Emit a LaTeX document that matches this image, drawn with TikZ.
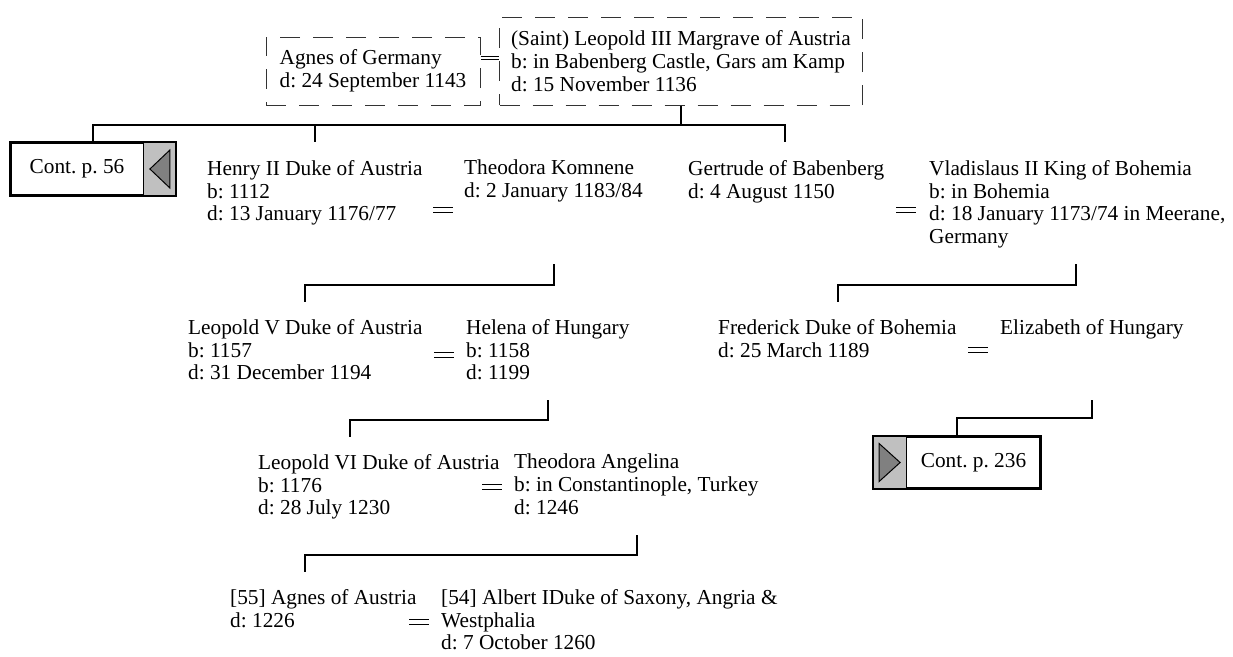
\documentclass[tikz,border=0pt]{standalone}
\usepackage{fontspec}
\setmainfont{Liberation Serif}
\usetikzlibrary{calc}
\frenchspacing
\definecolor{Ink}{HTML}{000000}
\definecolor{Frame}{HTML}{333333}
\definecolor{TabGray}{HTML}{C0C0C0}
\definecolor{TipGray}{HTML}{808080}

\begin{document}
\begin{tikzpicture}[
  x=1pt, y=-1pt,
  font=\fontsize{21.3}{22.8}\selectfont,
  person/.style={anchor=north west, inner sep=0pt, align=left},
  dashbox/.style={draw=Frame, line width=1pt, dash pattern=on 20pt off 13pt, align=left, inner sep=0pt},
  contbox/.style={draw=Ink, line width=1.8pt, fill=white, inner sep=0pt},
  famline/.style={draw=Ink, line width=1.6pt},
  spouse/.style={draw=Ink, line width=0.8pt, double distance=2.4pt},
  wed/.pic={\draw[line width=1.5pt] (-10,-2.6) -- (10,-2.6) (-10,2.6) -- (10,2.6);}
]
\useasboundingbox (0,0) rectangle (1233,656);

% top couple
\node[dashbox, minimum width=214, minimum height=68] (agnes) at (373,71) {Agnes of Germany\\d: 24 September 1143};
\node[dashbox, minimum width=363, minimum height=88] (leo3) at (681,61) {(Saint) Leopold III Margrave of Austria\\b: in Babenberg Castle, Gars am Kamp\\d: 15 November 1136};
\coordinate (wedtop) at ([yshift=13pt]agnes.east);
\draw[spouse] (wedtop) -- (wedtop -| leo3.west);

% continuation boxes
\node[contbox, minimum width=164, minimum height=52] (cont56) at (93,169) {Cont. p. 56\hspace*{32pt}};
\fill[TabGray] (cont56.north east) rectangle ([xshift=-32pt]cont56.south east);
\filldraw[fill=TipGray, draw=Ink, line width=1pt] ([xshift=-6pt, yshift=19pt]cont56.east) -- ([xshift=-26pt]cont56.east) -- ([xshift=-6pt, yshift=-19pt]cont56.east) -- cycle;
\draw[Ink, line width=1.8pt] (cont56.north west) rectangle (cont56.south east);
\draw[Ink, line width=1pt] ([xshift=-32pt]cont56.north east) -- ([xshift=-32pt]cont56.south east);

\node[contbox, minimum width=166, minimum height=51] (cont236) at (957,462.5) {\hspace*{33pt}Cont. p. 236};
\fill[TabGray] (cont236.north west) rectangle ([xshift=33pt]cont236.south west);
\filldraw[fill=TipGray, draw=Ink, line width=1pt] ([xshift=6pt, yshift=19pt]cont236.west) -- ([xshift=27pt]cont236.west) -- ([xshift=6pt, yshift=-19pt]cont236.west) -- cycle;
\draw[Ink, line width=1.8pt] (cont236.north west) rectangle (cont236.south east);
\draw[Ink, line width=1pt] ([xshift=33pt]cont236.north west) -- ([xshift=33pt]cont236.south west);

% children of Leopold III
\node[person] (henry2) at (207,160) {Henry II Duke of Austria\\b: 1112\\d: 13 January 1176/77};
\node[person] (theodora) at (464,160) {Theodora Komnene\\d: 2 January 1183/84};
\node[person] (gertrude) at (688,160) {Gertrude of Babenberg\\d: 4 August 1150};
\node[person] (vlad) at (929,160) {Vladislaus II King of Bohemia\\b: in Bohemia\\d: 18 January 1173/74 in Meerane,\\Germany};
\pic at (443,210) {wed};
\pic at (906,210) {wed};

% next generation
\node[person] (leo5) at (188,319) {Leopold V Duke of Austria\\b: 1157\\d: 31 December 1194};
\node[person] (helena) at (466,319) {Helena of Hungary\\b: 1158\\d: 1199};
\node[person] (fred) at (718,319) {Frederick Duke of Bohemia\\d: 25 March 1189};
\node[person] (eliz) at (1000,319) {Elizabeth of Hungary};
\pic at (444,355) {wed};
\pic at (978,350) {wed};

\node[person] (leo6) at (258,454) {Leopold VI Duke of Austria\\b: 1176\\d: 28 July 1230};
\node[person] (angelina) at (514,454) {Theodora Angelina\\b: in Constantinople, Turkey\\d: 1246};
\pic at (492,487) {wed};

\node[person] (agnes55) at (230,589) {[55] Agnes of Austria\\d: 1226};
\node[person] (albert) at (441,589) {[54] Albert IDuke of Saxony, Angria \&\\Westphalia\\d: 7 October 1260};
\pic at (419,622) {wed};

% family lines
\coordinate (bar) at (681,125);
\coordinate (henryup) at (315,142);
\coordinate (gertup) at (785,142);
\draw[famline] (leo3.south) -- (bar);
\draw[famline] (cont56.north) |- (bar -| gertup) -- (gertup);
\draw[famline] (bar -| henryup) -- (henryup);

\coordinate (hk) at (554,264);
\coordinate (leo5up) at (305,302);
\draw[famline] (hk) -- ++(0,21) -| (leo5up);
\coordinate (gv) at (1076,264);
\coordinate (fredup) at (838,302);
\draw[famline] (gv) -- ++(0,21) -| (fredup);

\coordinate (lh) at (548,400);
\coordinate (leo6up) at (350,437);
\draw[famline] (lh) -- ++(0,20) -| (leo6up);
\coordinate (fe) at (1092,400);
\draw[famline] (fe) -- ++(0,18) -| (cont236.north);

\coordinate (la) at (637,535);
\coordinate (agnesup) at (305,572);
\draw[famline] (la) -- ++(0,20) -| (agnesup);
\end{tikzpicture}
\end{document}
